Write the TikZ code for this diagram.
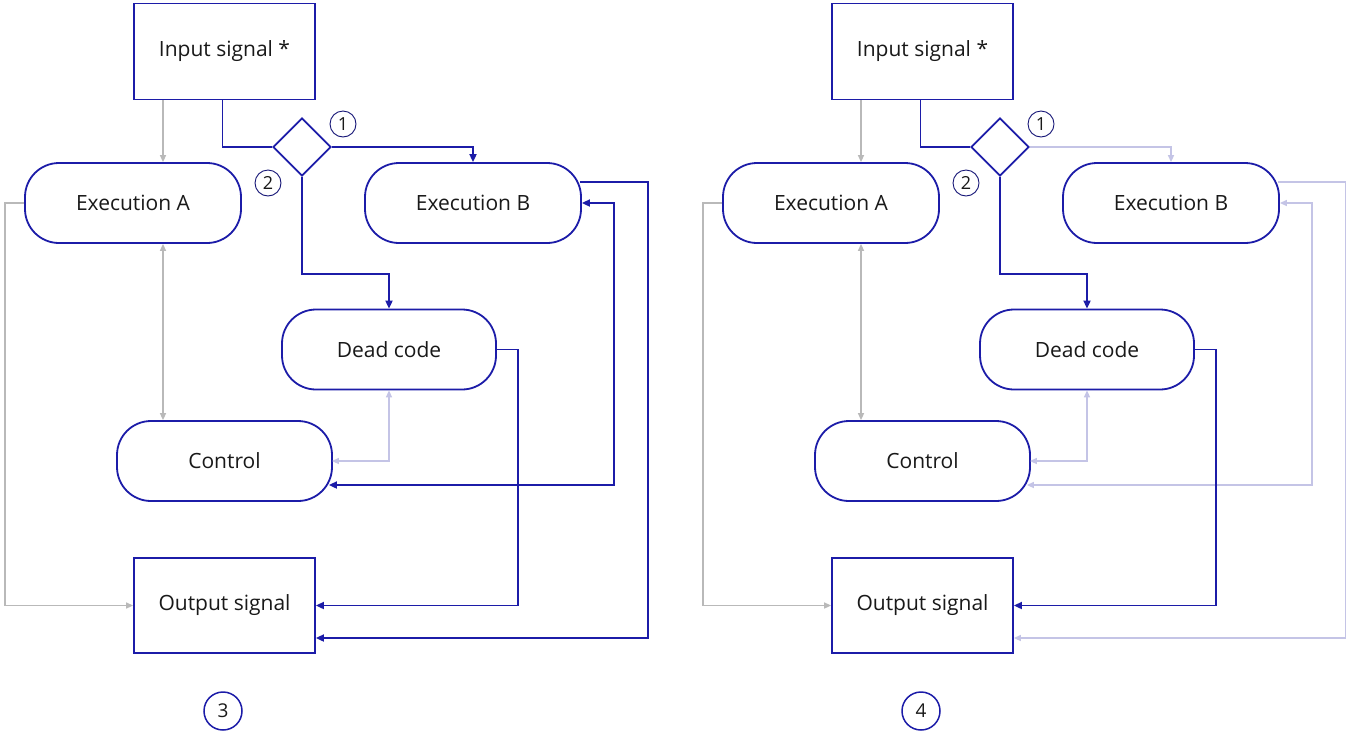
\documentclass[tikz,border=0pt]{standalone}
\usepackage{fontspec}
\setmainfont{Open Sans}
\usetikzlibrary{shapes.geometric,arrows.meta}
\definecolor{mblue}{RGB}{28,28,168}
\definecolor{mgray}{RGB}{185,185,185}
\definecolor{mlav}{RGB}{196,196,230}
\tikzset{
  base/.style={draw=mblue,line width=1.8pt,align=center,inner sep=0pt,font=\fontsize{21}{25}\selectfont,text=black!90},
  sqbox/.style={base,minimum width=181pt,minimum height=96pt},
  pill/.style={base,rounded corners=34pt,minimum width=216pt,minimum height=80pt},
  dia/.style={draw=mblue,line width=1.8pt,diamond,minimum width=58pt,minimum height=58pt,inner sep=0pt},
  num/.style={circle,draw=mblue!70!black,line width=0.9pt,minimum size=26pt,inner sep=0pt,font=\fontsize{18}{20}\selectfont,text=black!90},
  bignum/.style={circle,draw=mblue,line width=1.5pt,minimum size=38pt,inner sep=0pt,font=\fontsize{19}{22}\selectfont,text=black!90},
  bl/.style={draw=mblue,line width=1.8pt,-{Triangle[length=8pt,width=7pt]}},
  blplain/.style={draw=mblue,line width=1.8pt},
  bldouble/.style={draw=mblue,line width=1.8pt,{Triangle[length=8pt,width=7pt]}-{Triangle[length=8pt,width=7pt]}},
  gr/.style={draw=mgray,line width=1.5pt,-{Triangle[length=7pt,width=6pt]}},
  grdouble/.style={draw=mgray,line width=1.5pt,{Triangle[length=7pt,width=6pt]}-{Triangle[length=7pt,width=6pt]}},
  lv/.style={draw=mlav,line width=1.5pt,-{Triangle[length=7pt,width=6pt]}},
  lvdouble/.style={draw=mlav,line width=1.5pt,{Triangle[length=7pt,width=6pt]}-{Triangle[length=7pt,width=6pt]}},
}
% #1 prefix, #2 single-arrow style for B links, #3 double-arrow style for B link, #4 number
\newcommand\mypanel[4]{%
  \node[sqbox] (#1in) at (224.5,51.5) {Input signal *};
  \node[pill] (#1ea) at (133,203) {Execution A};
  \node[pill] (#1eb) at (473,203) {Execution B};
  \node[pill,minimum width=214pt] (#1dc) at (389,349.5) {Dead code};
  \node[pill,minimum width=215pt] (#1ct) at (224.5,461) {Control};
  \node[sqbox,minimum height=95pt] (#1out) at (224.5,605.5) {Output signal};
  \node[dia] (#1d) at (302,147) {};
  \node[num] (#1n1) at (343,124) {1};
  \node[num] (#1n2) at (268,183) {2};
  \node[bignum] (#1n3) at (223,711) {#4};
  % connectors
  \draw[gr] ([xshift=-61.5pt]#1in.south) -- ([xshift=-61.5pt]#1in.south |- #1ea.north);
  \draw[blplain] ([xshift=-2pt]#1in.south) |- (#1d.west);
  \draw[#2] (#1d.east) -| (#1eb.north);
  \draw[bl] (#1d.south) -- ++(0,97) -| (#1dc.north);
  \draw[gr] (#1ea.west) -- ++(-19,0) |- (#1out.west);
  \draw[grdouble] ([xshift=30pt]#1ea.south) -- ([xshift=30pt]#1ea.south |- #1ct.north);
  \draw[lvdouble] (#1dc.south) |- ([xshift=-1pt]#1ct.east);
  \draw[#2] ([yshift=21pt,xshift=-2pt]#1eb.east) -- ++(68,0) |- ([yshift=-32.5pt]#1out.east);
  \draw[#3] (#1eb.east) -- ++(32,0) |- ([yshift=-24pt,xshift=-4pt]#1ct.east);
  \draw[bl] (#1dc.east) -- ++(21,0) |- (#1out.east);
}
\begin{document}
\begin{tikzpicture}[x=1pt,y=-1pt]
  \useasboundingbox[fill=white] (0,0) rectangle (1346,732);
  \mypanel{L}{bl}{bldouble}{3}
  \begin{scope}[xshift=698pt]
    \mypanel{R}{lv}{lvdouble}{4}
  \end{scope}
\end{tikzpicture}
\end{document}
